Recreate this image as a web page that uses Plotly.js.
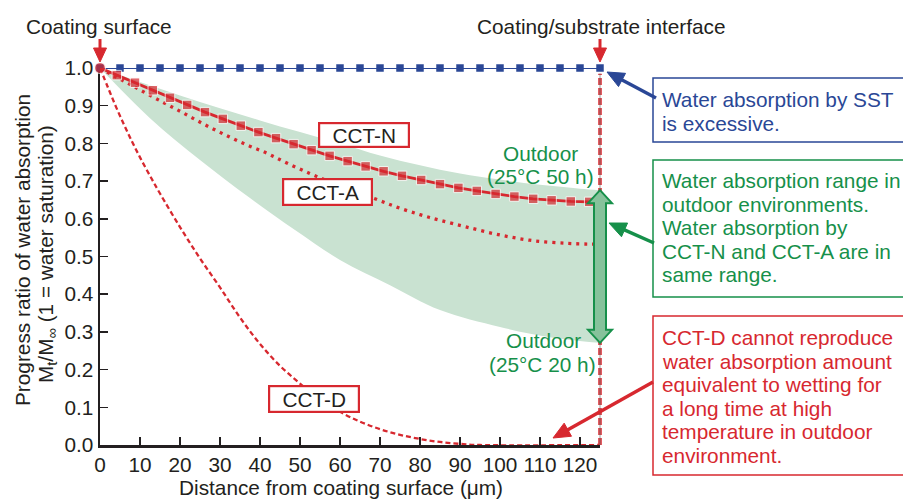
<!DOCTYPE html>
<html>
<head>
<meta charset="utf-8">
<script src="https://cdn.plot.ly/plotly-3.0.1.min.js"></script>
<style>html,body{margin:0;padding:0;background:#fff;}#chart{width:903px;height:499px;}</style>
</head>
<body>
<div id="chart"></div>
<script>
// ---------- data ----------
const xTicks = [0,10,20,30,40,50,60,70,80,90,100,110,120];
const yTicks = [0,0.1,0.2,0.3,0.4,0.5,0.6,0.7,0.8,0.9,1.0];
const xRange = [0, 125];

const sstX = [0,5,10,15,20,25,30,35,40,45,50,55,60,65,70,75,80,85,90,95,100,105,110,115,120,125];
const sstY = [1,1,1,1,1,1,1,1,1,1,1,1,1,1,1,1,1,1,1,1,1,1,1,1,1,1];

const cctNX = [0,4.2,8.75,13.2,17.5,21.8,26.25,30.7,35.2,39.6,44,48.4,52.9,57.4,61.9,66.4,70.9,75.5,80.3,85,89.6,94.2,98.9,103.6,108.3,112.9,117.7,122.3,125];
const cctNY = [1.0,0.981,0.961,0.941,0.921,0.902,0.883,0.865,0.847,0.830,0.814,0.798,0.782,0.767,0.753,0.739,0.726,0.714,0.703,0.692,0.682,0.674,0.666,0.659,0.653,0.649,0.646,0.645,0.645];

const cctAX = [0,3.3,6.7,10,15.4,20.6,25.6,30.8,36.25,41.7,46.7,52.3,57,62,68.75,74.2,80,85,91.7,100,108.3,116.7,122,125];
const cctAY = [1.0,0.98,0.961,0.942,0.911,0.882,0.853,0.825,0.798,0.774,0.748,0.721,0.70,0.679,0.653,0.631,0.611,0.596,0.578,0.557,0.542,0.535,0.533,0.533];

const cctDX = [0,2,4,6,8,10,12.5,15,20,25,30,35,40,45,50,55,60,65,70,75,80,85,90,95,125];
const cctDY = [1.0,0.948,0.897,0.850,0.805,0.763,0.714,0.667,0.578,0.495,0.418,0.338,0.268,0.21,0.163,0.121,0.088,0.062,0.042,0.027,0.016,0.008,0.003,0,0];

const bandUpX = [0,10,20,30,40,50,60,70,80,90,100,110,120,125];
const bandUpY = [1.0,0.963,0.927,0.893,0.861,0.83,0.8,0.768,0.742,0.72,0.704,0.69,0.68,0.676];
const bandLoX = [0,12.5,25,37.5,48.75,60,72.5,85,100,112.5,125];
const bandLoY = [1.0,0.867,0.756,0.655,0.570,0.491,0.424,0.358,0.313,0.286,0.271];

const interfaceX = 125;

// ---------- style ----------
const FONT = "Liberation Sans, Arial, Helvetica, sans-serif";
const FS = 20.8;
const INK = "#231f20";
const RED = "#d7282f";
const NAVY = "#2a4796";
const GREEN = "#16904a";
const BAND = "#c9e2d1";

// plot-area geometry in pixels (for placing decorations)
const L = 100, T = 68, PW = 500, PH = 377;
const PX = p => (p - L) / PW;
const PY = p => (T + PH - p) / PH;
const ifacePaper = (interfaceX - xRange[0]) / (xRange[1] - xRange[0]);

const traces = [
  {x: bandLoX, y: bandLoY, mode: 'lines', line: {width: 0, shape: 'spline', color: BAND}, hoverinfo: 'skip', showlegend: false},
  {x: bandUpX, y: bandUpY, mode: 'lines', fill: 'tonexty', fillcolor: BAND, line: {width: 0, shape: 'spline', color: BAND}, hoverinfo: 'skip', showlegend: false},
  {x: sstX, y: sstY, mode: 'lines+markers', cliponaxis: false, line: {color: NAVY, width: 2.2},
   marker: {symbol: 'square', size: 7.5, color: NAVY}, showlegend: false},
  {x: cctDX, y: cctDY, mode: 'lines', cliponaxis: false, line: {color: RED, width: 2.3, dash: '5px,3px', shape: 'spline'}, showlegend: false},
  {x: cctAX, y: cctAY, mode: 'lines', cliponaxis: false, line: {color: RED, width: 3.3, dash: '3px,5px', shape: 'spline'}, showlegend: false},
  {x: cctNX, y: cctNY, mode: 'lines+markers', cliponaxis: false, line: {color: RED, width: 2.8},
   marker: {symbol: cctNX.map((v, i) => i === 0 ? 'circle' : 'square'),
            size: cctNX.map((v, i) => i === 0 ? 11 : (i === cctNX.length - 1 ? 0 : 9.5)), color: RED},
   showlegend: false}
];

// green double arrow spanning the outdoor range at the interface
const upEnd = bandUpY[bandUpY.length - 1];
const loEnd = bandLoY[bandLoY.length - 1];
const hh = 13 / PH;
const arrowPath = `M0,${upEnd} L12,${upEnd - hh} L6,${upEnd - hh} L6,${loEnd + hh} L12,${loEnd + hh} L0,${loEnd} L-12,${loEnd + hh} L-6,${loEnd + hh} L-6,${upEnd - hh} L-12,${upEnd - hh} Z`;

function arrowShapes(tx, ty, sx, sy, color, w, hl, hw) {
  const dx = tx - sx, dy = ty - sy, len = Math.hypot(dx, dy);
  const ux = dx / len, uy = dy / len, nx = -uy, ny = ux;
  const bx = tx - ux * hl, by = ty - uy * hl;
  return [
    {type: 'line', xref: 'paper', yref: 'paper', x0: PX(sx), y0: PY(sy), x1: PX(bx + ux * 2), y1: PY(by + uy * 2),
     layer: 'above', line: {color: color, width: w}},
    {type: 'path', xref: 'paper', yref: 'paper', layer: 'above', fillcolor: color, line: {color: color, width: 1},
     path: `M${PX(tx)},${PY(ty)} L${PX(bx + nx * hw)},${PY(by + ny * hw)} L${PX(bx - nx * hw)},${PY(by - ny * hw)} Z`}
  ];
}

const shapes = [
  {type: 'line', xref: 'paper', yref: 'y', x0: ifacePaper, x1: ifacePaper, y0: 0, y1: 0.985, layer: 'above',
   line: {color: RED, width: 3.5, dash: '7px,3px'}},
  {type: 'line', xref: 'paper', yref: 'y', x0: ifacePaper, x1: ifacePaper, y0: 0, y1: 0.985, layer: 'above',
   line: {color: '#8a8a8a', width: 0.8}},
  {type: 'path', xref: 'paper', yref: 'y', xsizemode: 'pixel', xanchor: ifacePaper, path: arrowPath, layer: 'above',
   fillcolor: '#86c29b', line: {color: GREEN, width: 2}},
  // right-hand comment boxes
  {type: 'rect', xref: 'paper', yref: 'paper', x0: PX(653), x1: PX(915), y0: PY(78), y1: PY(142), line: {color: NAVY, width: 1.5}},
  {type: 'rect', xref: 'paper', yref: 'paper', x0: PX(653), x1: PX(915), y0: PY(160), y1: PY(297), line: {color: GREEN, width: 1.5}},
  {type: 'rect', xref: 'paper', yref: 'paper', x0: PX(653), x1: PX(915), y0: PY(316), y1: PY(475), line: {color: RED, width: 1.5}}
].concat(
  arrowShapes(100, 62, 100, 39, RED, 3, 14, 6.5),
  arrowShapes(600, 62, 600, 39, RED, 3, 14, 6.5),
  arrowShapes(607, 72, 656, 98, NAVY, 3.5, 17, 7.5),
  arrowShapes(609, 223, 654, 243, GREEN, 3.5, 17, 7.5),
  arrowShapes(553, 438, 653, 382, RED, 3.5, 17, 7.5)
);

function txt(text, px, py, color, xanchor) {
  return {text: text, xref: 'paper', yref: 'paper', x: PX(px), y: PY(py), xanchor: xanchor || 'center', yanchor: 'middle',
          showarrow: false, font: {family: FONT, size: FS, color: color || INK}};
}
function boxLabel(text, x, y, w, h, color) {
  return {text: text, xref: 'x', yref: 'y', x: x, y: y, showarrow: false, width: w, height: h, borderpad: 0,
          bgcolor: '#ffffff', bordercolor: color, borderwidth: 2.2, font: {family: FONT, size: FS, color: INK}};
}

const annotations = [
  txt('Coating surface', 99, 27),
  txt('Coating/substrate interface', 601, 27),
  boxLabel('SST', 64, 1.005, 88, 24, NAVY),
  boxLabel('CCT-N', 66, 0.822, 88, 22, RED),
  boxLabel('CCT-A', 56.9, 0.671, 87, 24, RED),
  boxLabel('CCT-D', 53.5, 0.122, 88, 24, RED),
  txt('Outdoor', 540, 153.5, GREEN),
  txt('(25°C 50 h)', 540, 176.5, GREEN),
  txt('Outdoor', 543, 340.5, GREEN),
  txt('(25°C 20 h)', 542, 364.5, GREEN),
  // right comments
  txt('Water absorption by SST', 660, 99.5, NAVY, 'left'),
  txt('is excessive.', 660, 123, NAVY, 'left'),
  txt('Water absorption range in', 660, 180.5, GREEN, 'left'),
  txt('outdoor environments.', 660, 204.1, GREEN, 'left'),
  txt('Water absorption by', 660, 227.7, GREEN, 'left'),
  txt('CCT-N and CCT-A are in', 660, 251.3, GREEN, 'left'),
  txt('same range.', 660, 274.9, GREEN, 'left'),
  txt('CCT-D cannot reproduce', 660, 337.5, RED, 'left'),
  txt('water absorption amount', 660, 361.1, RED, 'left'),
  txt('equivalent to wetting for', 660, 384.7, RED, 'left'),
  txt('a long time at high', 660, 408.3, RED, 'left'),
  txt('temperature in outdoor', 660, 431.9, RED, 'left'),
  txt('environment.', 660, 455.5, RED, 'left'),
  // axis titles
  txt('Distance from coating surface (μm)', 341, 487),
  Object.assign(txt('Progress ratio of water absorption', 22, 250), {textangle: -90}),
  Object.assign(txt('M<sub>t</sub>/M<sub>∞</sub> (1 = water saturation)', 47, 254), {textangle: -90})
];

const axisCommon = {
  showline: true, linecolor: INK, linewidth: 2.5, ticks: 'inside', ticklen: 8, tickwidth: 1.5, tickcolor: INK,
  showgrid: false, zeroline: false, fixedrange: true, layer: 'below traces',
  tickfont: {family: FONT, size: FS, color: INK}
};

const layout = {
  width: 903, height: 499,
  margin: {l: L, r: 903 - L - PW, t: T, b: 499 - T - PH},
  paper_bgcolor: '#ffffff', plot_bgcolor: '#ffffff',
  font: {family: FONT, size: FS, color: INK},
  showlegend: false,
  xaxis: Object.assign({}, axisCommon, {range: xRange, tickvals: xTicks}),
  yaxis: Object.assign({}, axisCommon, {range: [0, 1], tickvals: yTicks, tickformat: '.1f'}),
  shapes: shapes,
  annotations: annotations
};

Plotly.newPlot('chart', traces, layout, {displayModeBar: false, staticPlot: true});
</script>
</body>
</html>
